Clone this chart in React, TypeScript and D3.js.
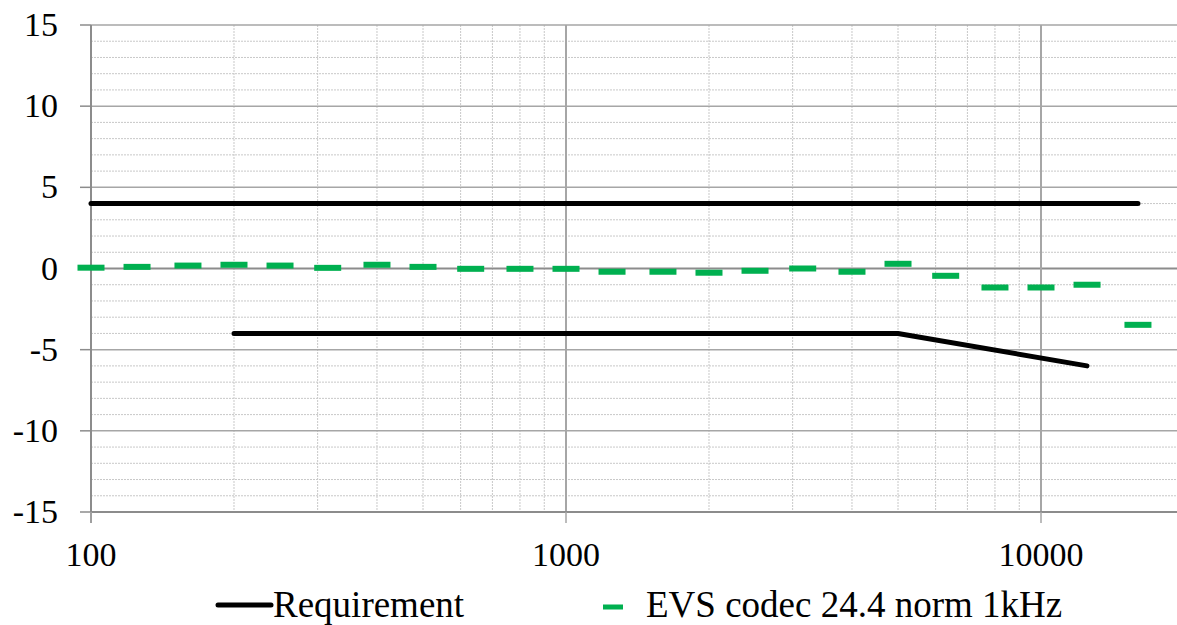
import React from "react";
import * as d3 from "d3";

const freqs = [100, 125, 160, 200, 250, 315, 400, 500, 630, 800, 1000, 1250, 1600, 2000, 2500, 3150, 4000, 5000, 6300, 8000, 10000, 12500, 16000];
const evsValues = [0.05, 0.1, 0.18, 0.23, 0.18, 0.04, 0.23, 0.1, -0.02, -0.02, -0.02, -0.2, -0.2, -0.26, -0.14, 0.0, -0.2, 0.29, -0.45, -1.17, -1.17, -1.0, -3.47];
const reqUpperX = [100, 16000];
const reqUpperY = [4, 4];
const reqLowerX = [200, 5000, 12500];
const reqLowerY = [-4, -4, -6];
const yTicks = [15, 10, 5, 0, -5, -10, -15];
const xTicks = [100, 1000, 10000];
const seriesNames = ["Requirement", "EVS codec 24.4 norm 1kHz"];

const W = 1177;
const H = 625;
const left = 91;
const top = 25;
const bottom = 512;
const decade = 475;
const xMax = 20000;

export default function App() {
  const x = d3.scaleLog().domain([100, xMax]).range([left, left + decade * Math.log10(xMax / 100)]);
  const y = d3.scaleLinear().domain([-15, 15]).range([bottom, top]);
  const right = W;

  const minorY = d3.range(-15, 16).filter((v) => v % 5 !== 0);
  const minorX: number[] = [];
  for (const dec of [100, 1000, 10000]) {
    for (let k = 2; k <= 9; k++) {
      const f = dec * k;
      if (x(f) < right) minorX.push(f);
    }
  }
  const line = d3.line<[number, number]>().x((d) => x(d[0])).y((d) => y(d[1]));
  const upper = reqUpperX.map((f, i) => [f, reqUpperY[i]] as [number, number]);
  const lower = reqLowerX.map((f, i) => [f, reqLowerY[i]] as [number, number]);
  const font = "'Liberation Serif', 'Times New Roman', serif";

  return (
    <svg width={W} height={H} style={{ position: "absolute", left: 0, top: 0, display: "block", background: "#fff" }}>
      {minorY.map((v) => (
        <line key={"mh" + v} x1={left} x2={right} y1={y(v)} y2={y(v)} stroke="#c8c8c8" strokeWidth={1} strokeDasharray="2,1" />
      ))}
      {minorX.map((f) => (
        <line key={"mv" + f} x1={x(f)} x2={x(f)} y1={top} y2={bottom} stroke="#c8c8c8" strokeWidth={1} strokeDasharray="2,1" />
      ))}
      {yTicks.map((v) => (
        <line key={"Mh" + v} x1={left} x2={right} y1={y(v)} y2={y(v)} stroke={v === 0 ? "#8c8c8c" : "#a6a6a6"} strokeWidth={v === 0 ? 2 : 1.5} />
      ))}
      {xTicks.slice(1).map((f) => (
        <line key={"Mv" + f} x1={x(f)} x2={x(f)} y1={top} y2={bottom} stroke="#a6a6a6" strokeWidth={2} />
      ))}
      <line x1={left} x2={left} y1={top} y2={bottom + 11} stroke="#8c8c8c" strokeWidth={2} />
      <line x1={left} x2={right} y1={bottom} y2={bottom} stroke="#8c8c8c" strokeWidth={2} />
      {yTicks.map((v) => (
        <line key={"yt" + v} x1={left - 11} x2={left} y1={y(v)} y2={y(v)} stroke="#8c8c8c" strokeWidth={1.5} />
      ))}
      {xTicks.map((f) => (
        <line key={"xt" + f} x1={x(f)} x2={x(f)} y1={bottom} y2={bottom + 11} stroke="#a6a6a6" strokeWidth={1.5} />
      ))}
      {yTicks.map((v) => (
        <text key={"yl" + v} x={58} y={y(v) + 11} textAnchor="end" style={{ fontFamily: font, fontSize: 34 }} fill="#000">
          {v}
        </text>
      ))}
      {xTicks.map((f) => (
        <text key={"xl" + f} x={x(f)} y={566} textAnchor="middle" style={{ fontFamily: font, fontSize: 34 }} fill="#000">
          {f}
        </text>
      ))}
      <path d={line(upper) || ""} fill="none" stroke="#000" strokeWidth={5} strokeLinecap="round" strokeLinejoin="round" />
      <path d={line(lower) || ""} fill="none" stroke="#000" strokeWidth={5} strokeLinecap="round" strokeLinejoin="round" />
      {freqs.map((f, i) => (
        <rect key={"d" + f} x={x(f) - 13.5} y={y(evsValues[i]) - 3} width={27} height={6} fill="#00B050" />
      ))}
      <line x1={218} x2={271} y1={605} y2={605} stroke="#000" strokeWidth={5} strokeLinecap="round" />
      <text x={273} y={617} style={{ fontFamily: font, fontSize: 37 }} fill="#000">{seriesNames[0]}</text>
      <rect x={603} y={604.5} width={20} height={5} fill="#00B050" />
      <text x={646} y={617} style={{ fontFamily: font, fontSize: 37 }} fill="#000">{seriesNames[1]}</text>
    </svg>
  );
}
